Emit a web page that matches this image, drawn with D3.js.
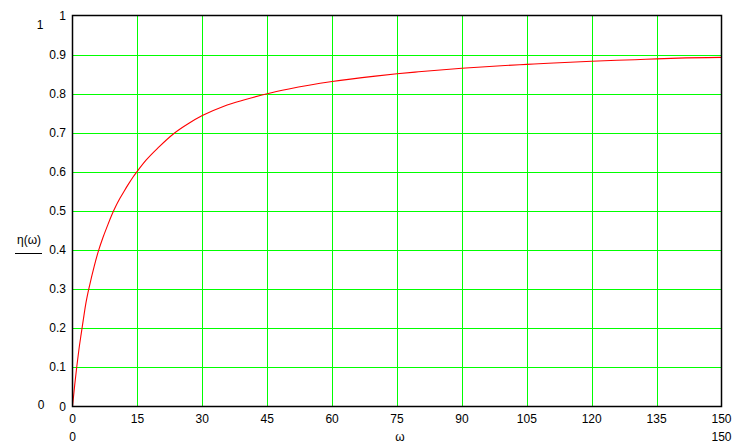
<!DOCTYPE html>
<html>
<head>
<meta charset="utf-8">
<script src="https://cdn.jsdelivr.net/npm/d3@7"></script>
<style>
  html, body { margin: 0; padding: 0; background: #fff; }
  svg text { font-family: "Liberation Sans", Arial, sans-serif; font-size: 12px; fill: #000; }
</style>
</head>
<body>
<svg id="chart" width="747" height="444"></svg>
<script>
// Data
const omega = [0, 0.5, 1, 1.5, 2, 2.5, 3, 4, 5, 6, 7, 8, 9, 10, 11, 12, 13, 14, 15, 17, 20, 23.3, 27, 30, 35, 40, 45, 50, 60, 70, 75, 80, 90, 100, 105, 110, 120, 130, 135, 140, 150];
const eta   = [0, 0.054, 0.103, 0.147, 0.185, 0.222, 0.258, 0.312, 0.358, 0.398, 0.431, 0.460, 0.488, 0.512, 0.533, 0.552, 0.570, 0.587, 0.602, 0.630, 0.664, 0.697, 0.725, 0.744, 0.768, 0.785, 0.800, 0.812, 0.831, 0.845, 0.851, 0.856, 0.865, 0.872, 0.875, 0.878, 0.883, 0.887, 0.889, 0.891, 0.893];
const xTicks = [0, 15, 30, 45, 60, 75, 90, 105, 120, 135, 150];
const yTicks = [0, 0.1, 0.2, 0.3, 0.4, 0.5, 0.6, 0.7, 0.8, 0.9, 1];
const xLabel = "ω";
const yLabel = "η(ω)";

const svg = d3.select("#chart");
const x = d3.scaleLinear().domain([0, 150]).range([72.5, 721.5]);
const y = d3.scaleLinear().domain([0, 1]).range([406.5, 15.5]);

// grid
svg.append("g").selectAll("line").data(xTicks.slice(1, -1)).join("line")
  .attr("x1", d => Math.round(x(d)) + 0.5).attr("x2", d => Math.round(x(d)) + 0.5)
  .attr("y1", y(0)).attr("y2", y(1))
  .attr("stroke", "#00ff00").attr("stroke-width", 1);
svg.append("g").selectAll("line").data(yTicks.slice(1, -1)).join("line")
  .attr("y1", d => Math.round(y(d)) + 0.5).attr("y2", d => Math.round(y(d)) + 0.5)
  .attr("x1", x(0)).attr("x2", x(150))
  .attr("stroke", "#00ff00").attr("stroke-width", 1);

// curve
const pts = omega.map((w, i) => [w, eta[i]]);
svg.append("path").datum(pts)
  .attr("fill", "none").attr("stroke", "#ff0000").attr("stroke-width", 1.1)
  .attr("d", d3.line().x(d => x(d[0])).y(d => y(d[1])).curve(d3.curveMonotoneX));

// frame
svg.append("rect").attr("x", x(0)).attr("y", y(1))
  .attr("width", x(150) - x(0)).attr("height", y(0) - y(1))
  .attr("fill", "none").attr("stroke", "#000").attr("stroke-width", 1.5);

// x tick labels
svg.append("g").selectAll("text").data(xTicks).join("text")
  .attr("x", d => x(d)).attr("y", 423).attr("text-anchor", "middle")
  .text(d => d);
// y tick labels
svg.append("g").selectAll("text").data(yTicks).join("text")
  .attr("x", 66).attr("y", d => y(d) + 4).attr("text-anchor", "end")
  .text(d => d);

// limit labels
svg.append("text").attr("x", 40).attr("y", 29).attr("text-anchor", "middle").text("1");
svg.append("text").attr("x", 41).attr("y", 409).attr("text-anchor", "middle").text("0");
svg.append("text").attr("x", x(0)).attr("y", 441).attr("text-anchor", "middle").text("0");
svg.append("text").attr("x", x(150)).attr("y", 441).attr("text-anchor", "middle").text("150");

// axis labels
svg.append("text").attr("x", 400).attr("y", 441).attr("text-anchor", "middle").text(xLabel);
svg.append("text").attr("x", 29).attr("y", 244).attr("text-anchor", "middle").text(yLabel);
svg.append("line").attr("x1", 15).attr("x2", 42).attr("y1", 253.5).attr("y2", 253.5)
  .attr("stroke", "#000").attr("stroke-width", 1);
</script>
</body>
</html>
